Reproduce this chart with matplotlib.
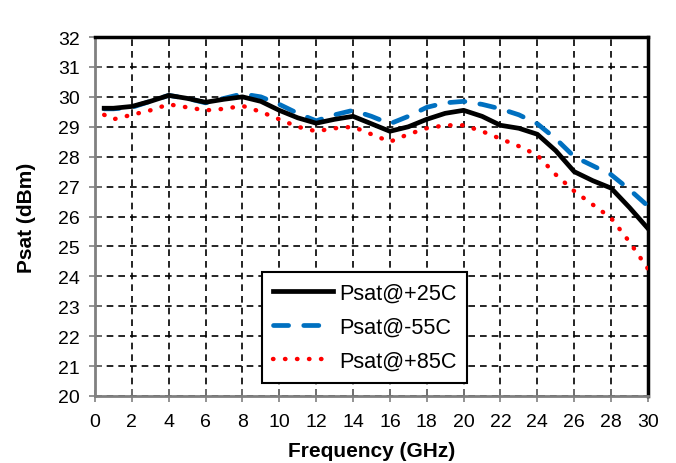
import matplotlib.pyplot as plt

plt.rcParams['font.family'] = ['Liberation Sans', 'DejaVu Sans']

freq = [0.5, 1, 2, 3, 4, 5, 6, 7, 8, 9, 10, 11, 12, 13, 14, 15, 16, 17, 18, 19, 20,
        21, 22, 23, 24, 25, 26, 27, 28, 29, 30]
psat_25 = [29.62, 29.62, 29.68, 29.85, 30.05, 29.95, 29.82, 29.92, 30.0, 29.85, 29.55,
           29.3, 29.12, 29.25, 29.35, 29.1, 28.85, 29.0, 29.25, 29.45, 29.55,
           29.35, 29.05, 28.95, 28.75, 28.2, 27.5, 27.2, 26.95, 26.3, 25.6]
psat_m55 = [29.6, 29.6, 29.65, 29.85, 30.05, 29.95, 29.8, 29.95, 30.1, 30.0, 29.75,
            29.45, 29.2, 29.4, 29.55, 29.35, 29.1, 29.35, 29.65, 29.8, 29.85,
            29.75, 29.6, 29.4, 29.1, 28.6, 28.0, 27.7, 27.4, 26.9, 26.35]
psat_85 = [29.4, 29.25, 29.4, 29.55, 29.75, 29.65, 29.55, 29.6, 29.7, 29.5, 29.25,
           29.0, 28.85, 28.95, 29.0, 28.75, 28.5, 28.75, 28.95, 29.05, 29.05,
           28.85, 28.6, 28.35, 28.05, 27.4, 26.85, 26.4, 25.95, 25.15, 24.25]

fig = plt.figure(figsize=(6.76, 4.64), dpi=100)
ax = fig.add_axes([0.1405, 0.1444, 0.818, 0.7736])

ax.plot(freq, psat_25, color='black', lw=3.4, label='Psat@+25C', zorder=4)
ax.plot(freq, psat_m55, color='#0070c0', lw=3.4, ls=(0, (3.2, 3.2)),
        dash_capstyle='round', label='Psat@-55C', zorder=3)
ax.plot(freq, psat_85, color='#ff0000', lw=3.2, ls=(0, (0.1, 2.6)),
        dash_capstyle='round', label='Psat@+85C', zorder=3)

ax.set_xlim(0, 30)
ax.set_ylim(20, 32)
ax.set_xticks(range(0, 31, 2))
ax.set_yticks(range(20, 33, 1))
ax.grid(True, color='black', ls=(0, (4, 3)), lw=1.2)

for s in ['top', 'right']:
    ax.spines[s].set_color('black')
    ax.spines[s].set_linewidth(2.5)
for s in ['left', 'bottom']:
    ax.spines[s].set_color('#808080')
    ax.spines[s].set_linewidth(2)

ax.tick_params(axis='both', direction='inout', length=9, width=1.2, color='#808080',
               labelsize=14)
ax.tick_params(axis='x', pad=8)
ax.tick_params(axis='y', pad=6.5)

ax.set_xlabel('Frequency (GHz)', fontsize=15, fontweight='bold', labelpad=8)
ax.set_ylabel('Psat (dBm)', fontsize=15, fontweight='bold', labelpad=16)

leg = ax.legend(loc='upper left', bbox_to_anchor=(0.302, 0.345), fontsize=15.6,
                frameon=True, fancybox=False, handlelength=2.8, handletextpad=0.25,
                borderpad=0.5, labelspacing=0.6, borderaxespad=0)
leg.get_frame().set_edgecolor('black')
leg.get_frame().set_linewidth(1.5)
leg.get_frame().set_alpha(1)

fig.savefig('out.png', dpi=100)
